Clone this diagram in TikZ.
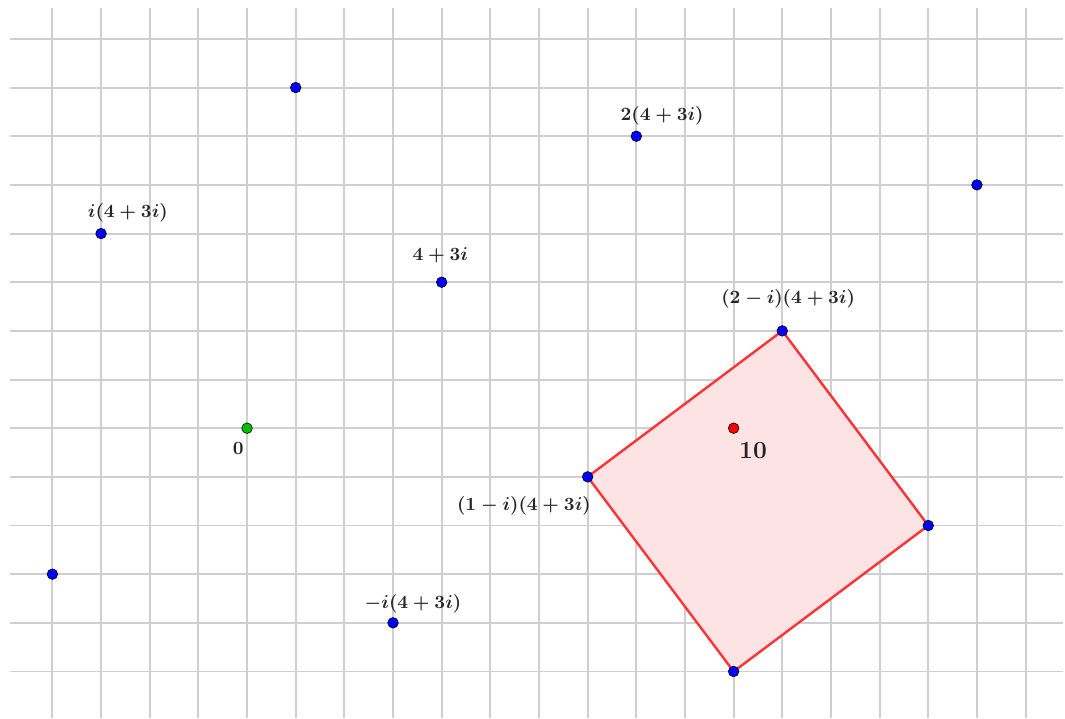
\documentclass[tikz,border=0pt]{standalone}
\usepackage{amsmath}
\begin{document}
\begin{tikzpicture}[x=1cm,y=1cm,
  gridline/.style={draw=black!19, line width=1.15pt},
  dot/.style={circle, draw=black, line width=0.35pt, inner sep=0pt, minimum size=6.2pt},
  bdot/.style={dot, fill=blue},
  lab/.style={inner sep=0pt, text=black!85, font=\boldmath\fontsize{10.5}{12}\selectfont},
  sq/.style={draw={rgb,255:red,255;green,51;blue,51}, fill={rgb,255:red,253;green,227;blue,227}, line width=1.4pt, line join=round}
]
\useasboundingbox (-5.077,-5.96) rectangle (16.81,8.80);
% grid
\foreach \y in {-5,...,8} \draw[gridline] (-4.87,\y) -- (16.77,\y);
\foreach \x in {-4,...,16} \draw[gridline] (\x,8.63) -- (\x,-5.96);
% square
\coordinate (A) at (7,-1);
\coordinate (B) at (11,2);
\coordinate (C) at (14,-2);
\coordinate (D) at (10,-5);
\filldraw[sq] (A) -- (B) -- (C) -- (D) -- cycle;
% points
\node[dot, fill=green!75!black] (o) at (0,0) {};
\node[dot, fill=red] (ten) at (10,0) {};
\node[bdot] (z) at (4,3) {};
\node[bdot] (z2) at (8,6) {};
\node[bdot] (iz) at (-3,4) {};
\node[bdot] (miz) at (3,-4) {};
\node[bdot] (a) at (A) {};
\node[bdot] (b) at (B) {};
\node[bdot] (c) at (C) {};
\node[bdot] (d) at (D) {};
\node[bdot] (p1) at (1,7) {};
\node[bdot] (p2) at (15,5) {};
\node[bdot] (p3) at (-4,-3) {};
% labels
\node[lab] (lz) at (3.97,3.56) {$4+3i$};
\node[lab] (lz2) at (8.53,6.41) {$2(4+3i)$};
\node[lab] (liz) at (-2.45,4.42) {$i(4+3i)$};
\node[lab] (lb) at (11.12,2.65) {$(2-i)(4+3i)$};
\node[lab] (la) at (5.69,-1.60) {$(1-i)(4+3i)$};
\node[lab] (lmiz) at (3.41,-3.60) {$-i(4+3i)$};
\node[lab] (lo) at (-0.18,-0.41) {$0$};
\node[lab, font=\boldmath\fontsize{13.5}{16}\selectfont] (lten) at (10.40,-0.47) {$10$};
\end{tikzpicture}
\end{document}
